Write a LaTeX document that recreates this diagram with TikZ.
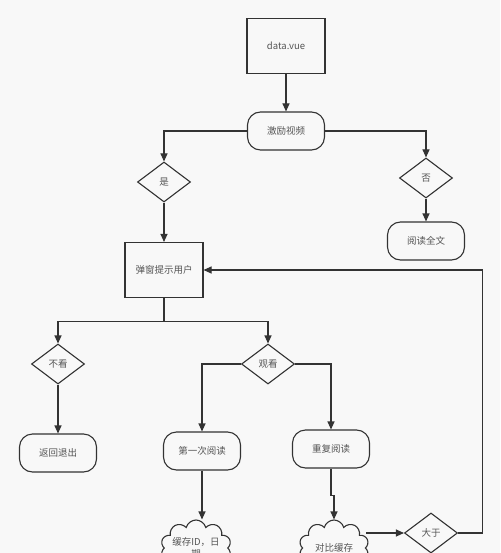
\documentclass[tikz,border=0pt]{standalone}
\usepackage{fontspec}
\setmainfont{Noto Sans CJK SC}
\usetikzlibrary{shapes.geometric,shapes.symbols,arrows.meta}
\definecolor{bgc}{HTML}{F8F8F8}
\definecolor{linec}{HTML}{333333}
\definecolor{textc}{HTML}{555555}
\tikzset{
  base/.style={draw=linec, line width=1.1pt, text=textc, font=\fontsize{9.5}{12}\selectfont, inner sep=0pt},
  box/.style={base, rectangle, minimum width=78pt, minimum height=55pt},
  rbox/.style={base, rectangle, rounded corners=13pt, minimum width=77pt, minimum height=38pt},
  choice/.style={base, diamond, aspect=1.3, minimum width=53pt, minimum height=40pt},
  store/.style={base, cloud, cloud puffs=10, cloud ignores aspect, align=center, minimum width=70pt, minimum height=56pt},
  arr/.style={draw=linec, line width=1.1pt, -{Triangle[width=7pt,length=8pt]}},
  link/.style={draw=linec, line width=1.1pt}
}
\begin{document}
\begin{tikzpicture}[x=1pt,y=-1pt]
\fill[bgc] (0,0) rectangle (500,553);
\useasboundingbox (0,0) rectangle (500,553);
\clip (0,0) rectangle (500,553);

\node[box](data) at (286, 46) {data.vue};
\node[rbox](incent) at (286, 131) {激励视频};
\node[choice](yes) at (164, 182) {是};
\node[choice](no) at (426, 178) {否};
\node[rbox](full) at (426, 241) {阅读全文};
\node[box](popup) at (164, 270) {弹窗提示用户};

\node[choice](skip) at (58, 364) {不看};
\node[choice](watch) at (268, 364) {观看};
\node[rbox](back) at (58, 453) {返回退出};
\node[rbox](first) at (202, 451) {第一次阅读};
\node[rbox](again) at (331, 449) {重复阅读};

\node[store](cache) at (196, 548) {缓存ID，日\\期};
\node[store](compare) at (334, 548) {对比缓存};
\node[choice](bigger) at (431, 533) {大于};

\draw[arr] (data) -- (incent);
\draw[arr] (incent.west) -| (yes.north);
\draw[arr] (incent.east) -| (no.north);
\draw[arr] (yes) -- (popup);
\draw[arr] (no) -- (full);

\draw[link] (popup.south) -- ++(0,23) coordinate (split);
\draw[arr] (split) -| (skip.north);
\draw[arr] (split) -| (watch.north);
\draw[arr] (skip) -- (back);
\draw[arr] (watch.west) -| (first.north);
\draw[arr] (watch.east) -| (again.north);

\draw[arr] (first.south) -- (first.south |- cache.north);
\draw[link] (again.south) -- ++(0,27) coordinate (jog);
\draw[arr] (jog) -| (compare.north);
\draw[arr] (bigger.west -| compare.east) -- (bigger.west);
\draw[arr] (bigger.east) -- ++(24,0) |- (popup.east);
\end{tikzpicture}
\end{document}
